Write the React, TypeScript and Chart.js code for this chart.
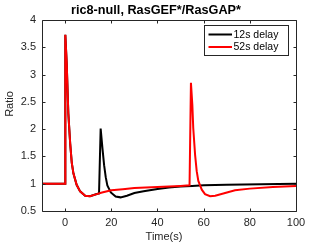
import React, { useEffect, useRef } from "react";
import { Chart, registerables } from "chart.js";

Chart.register(...registerables);

const chartTitle = "ric8-null, RasGEF*/RasGAP*";
const xLabel = "Time(s)";
const yLabel = "Ratio";
const seriesLabels = ["12s delay", "52s delay"];
const seriesColors = ["#000000", "#ff0000"];
const xTickValues = [0, 20, 40, 60, 80, 100];
const yTickValues = [0.5, 1, 1.5, 2, 2.5, 3, 3.5, 4];

const blackTimes = [-10, 0, 0.1, 0.7, 1.4, 2.2, 2.9, 3.6, 5.0, 6.5, 8.7, 10.8, 13.7, 14.7, 15.4, 16.2, 16.9, 17.6, 18.3, 19.8, 21.9, 24, 26.8, 30, 34, 40, 45, 50, 55, 60, 70, 85, 100];
const blackValues = [1, 1, 3.73, 3.21, 2.29, 1.74, 1.38, 1.19, 0.98, 0.86, 0.78, 0.77, 0.81, 0.82, 2.01, 1.64, 1.34, 1.12, 0.97, 0.84, 0.765, 0.75, 0.78, 0.83, 0.86, 0.905, 0.93, 0.95, 0.96, 0.97, 0.98, 0.99, 1.0];

const redTimes = [-10, 0, 0.1, 0.7, 1.4, 2.2, 2.9, 3.6, 5.0, 6.5, 8.7, 10.8, 13.7, 16, 20, 25, 30, 40, 50, 53.9, 54.5, 55.1, 55.5, 56.3, 57, 57.7, 59.2, 60.6, 62.8, 65, 69.3, 73.6, 80, 90, 100];
const redValues = [1, 1, 3.73, 3.21, 2.29, 1.74, 1.38, 1.19, 0.98, 0.86, 0.78, 0.77, 0.81, 0.84, 0.88, 0.9, 0.92, 0.94, 0.96, 0.97, 2.85, 2.45, 2.02, 1.53, 1.23, 1.05, 0.89, 0.81, 0.77, 0.78, 0.83, 0.88, 0.91, 0.94, 0.96];

const FONT = "'Liberation Sans', Arial, Helvetica, sans-serif";
const AXIS_COLOR = "#262626";

const toPoints = (ts: number[], vs: number[]) => ts.map((t, i) => ({ x: t, y: vs[i] }));

const framePlugin = {
  id: "matlabFrame",
  afterDatasetsDraw(chart: any) {
    const { ctx, chartArea: ca, scales } = chart;
    const L = Math.round(ca.left) + 0.5;
    const R = Math.round(ca.right) + 0.5;
    const T = Math.round(ca.top) + 0.5;
    const B = Math.round(ca.bottom) + 0.5;
    ctx.save();
    ctx.strokeStyle = AXIS_COLOR;
    ctx.lineWidth = 1;
    ctx.beginPath();
    ctx.rect(L, T, R - L, B - T);
    ctx.stroke();
    const tl = 3;
    ctx.beginPath();
    for (const v of xTickValues) {
      const px = Math.round(scales.x.getPixelForValue(v)) + 0.5;
      ctx.moveTo(px, B);
      ctx.lineTo(px, B - tl);
      ctx.moveTo(px, T);
      ctx.lineTo(px, T + tl);
    }
    for (const v of yTickValues) {
      const py = Math.round(scales.y.getPixelForValue(v)) + 0.5;
      ctx.moveTo(L, py);
      ctx.lineTo(L + tl, py);
      ctx.moveTo(R, py);
      ctx.lineTo(R - tl, py);
    }
    ctx.stroke();

    // legend box
    const bx = Math.round(ca.right) - 92 + 0.5;
    const by = Math.round(ca.top) + 5 + 0.5;
    const bw = 84;
    const bh = 30;
    ctx.fillStyle = "#ffffff";
    ctx.fillRect(bx, by, bw, bh);
    ctx.strokeStyle = AXIS_COLOR;
    ctx.strokeRect(bx, by, bw, bh);
    ctx.font = `10.5px ${FONT}`;
    ctx.textBaseline = "middle";
    ctx.textAlign = "left";
    chart.data.datasets.forEach((ds: any, i: number) => {
      const ly = by + 9 + i * 12.5;
      ctx.strokeStyle = ds.borderColor;
      ctx.lineWidth = 2;
      ctx.beginPath();
      ctx.moveTo(bx + 4, ly);
      ctx.lineTo(bx + 27.5, ly);
      ctx.stroke();
      ctx.fillStyle = "#000000";
      ctx.fillText(ds.label, bx + 29, ly + 0.5);
    });
    ctx.restore();
  },
  afterDraw(chart: any) {
    const { ctx, chartArea: ca } = chart;
    ctx.save();
    ctx.fillStyle = "#000000";
    ctx.textAlign = "center";
    ctx.textBaseline = "middle";
    ctx.font = `bold 12.7px ${FONT}`;
    ctx.fillText(chartTitle, ca.left + 114, 10);
    ctx.fillStyle = AXIS_COLOR;
    ctx.font = `11px ${FONT}`;
    ctx.fillText(xLabel, ca.left + 122, 236.5);
    ctx.translate(10, ca.top + 84);
    ctx.rotate(-Math.PI / 2);
    ctx.fillText(yLabel, 0, 0);
    ctx.restore();
  },
};

export default function App() {
  const ref = useRef<HTMLCanvasElement | null>(null);
  useEffect(() => {
    if (!ref.current) return;
    const chart = new Chart(ref.current, {
      type: "line",
      data: {
        datasets: [
          {
            label: seriesLabels[0],
            data: toPoints(blackTimes, blackValues),
            borderColor: seriesColors[0],
            borderWidth: 2,
            pointRadius: 0,
            tension: 0,
            order: 1,
          },
          {
            label: seriesLabels[1],
            data: toPoints(redTimes, redValues),
            borderColor: seriesColors[1],
            borderWidth: 2,
            pointRadius: 0,
            tension: 0,
            order: 0,
          },
        ],
      },
      options: {
        responsive: false,
        animation: false,
        devicePixelRatio: 1,
        layout: { padding: { top: 20, right: 31, left: 0, bottom: 0 } },
        plugins: {
          legend: { display: false },
          title: { display: false },
          tooltip: { enabled: false },
        },
        scales: {
          x: {
            type: "linear",
            min: -10,
            max: 100,
            grid: { display: false, drawTicks: false },
            border: { display: false },
            afterBuildTicks: (s: any) => {
              s.ticks = xTickValues.map((v) => ({ value: v }));
            },
            afterFit: (s: any) => {
              s.height = 34;
            },
            ticks: {
              color: AXIS_COLOR,
              font: { family: FONT, size: 11 },
              padding: 5,
              maxRotation: 0,
              callback: (v: any) => String(v),
            },
          },
          y: {
            type: "linear",
            min: 0.5,
            max: 4,
            grid: { display: false, drawTicks: false },
            border: { display: false },
            afterBuildTicks: (s: any) => {
              s.ticks = yTickValues.map((v) => ({ value: v }));
            },
            afterFit: (s: any) => {
              s.width = 42;
            },
            ticks: {
              color: AXIS_COLOR,
              font: { family: FONT, size: 11 },
              padding: 6,
              callback: (v: any) => String(v),
            },
          },
        },
      },
      plugins: [framePlugin],
    });
    return () => chart.destroy();
  }, []);
  return (
    <canvas
      ref={ref}
      width={327}
      height={245}
      style={{ position: "absolute", left: 0, top: 0, width: 327, height: 245 }}
    />
  );
}
